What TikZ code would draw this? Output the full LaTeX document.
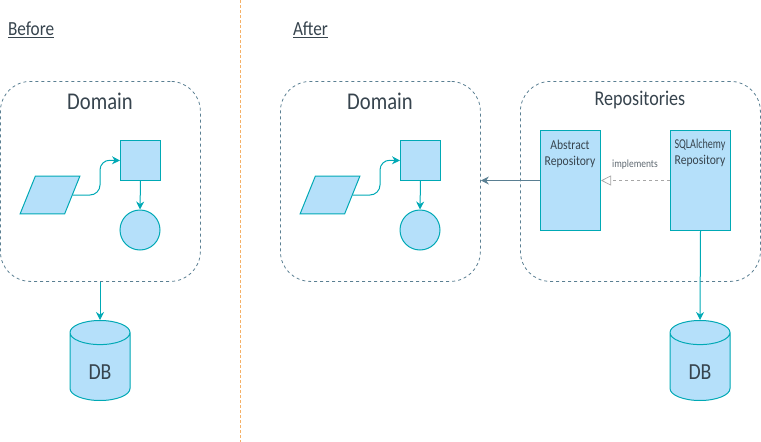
\documentclass[tikz,border=0pt]{standalone}
\usepackage{fontspec}
\setmainfont[FakeStretch=0.86]{Carlito}
\usetikzlibrary{arrows.meta,shapes.geometric}
\definecolor{tealline}{HTML}{00A9B5}
\definecolor{boxfill}{HTML}{B5E0FA}
\definecolor{slateline}{HTML}{5A7F92}
\definecolor{inktext}{HTML}{37444E}
\definecolor{splitline}{HTML}{F5B066}
\tikzset{
	shapebox/.style={draw=tealline, fill=boxfill, line width=1pt, inner sep=0pt},
	rect/.style={shapebox, rectangle, minimum width=#1, anchor=north west},
	classbox/.style={rect=60pt, minimum height=100pt},
	region/.style={draw=slateline, dashed, dash pattern=on 3pt off 3pt, line width=0.8pt, rounded corners=30pt, rectangle, minimum height=200pt, anchor=north west, inner sep=0pt},
	dbcyl/.style={shapebox, cylinder, shape border rotate=90, aspect=1.05, minimum width=60pt, minimum height=80pt, anchor=north, cylinder uses custom fill, cylinder body fill=boxfill, cylinder end fill=boxfill, font=\fontsize{23}{23}\selectfont},
	dbtext/.style={font=\fontsize{23}{23}\selectfont\color{inktext}},
	flow/.style={-{Stealth[length=8pt,width=8pt]}, draw=tealline, line width=1pt},
	title/.style={font=\fontsize{24}{24}\selectfont\color{inktext}},
	heading/.style={font=\fontsize{20}{20}\selectfont\color{inktext}, anchor=west},
	classtext/.style={font=\fontsize{13.5}{16}\selectfont\color{inktext}, align=center},
}
\begin{document}
\begin{tikzpicture}[x=1pt,y=-1pt]
	\useasboundingbox (0,0) rectangle (761,442);
	\coordinate (splittop) at (240.5,0);
	\coordinate (splitbot) at (240.5,442);
	\draw[splitline, dashed, dash pattern=on 3pt off 2pt, line width=0.8pt] (splittop) -- (splitbot);
	\node[heading] (before) at (4.5,30) {\underline{Before}};
	\node[heading] (after) at (289.5,30) {\underline{After}};
	% the same domain twice
	\foreach \dx/\nm in {0/a,280/b} {
		\node[region, minimum width=200pt] (dom\nm) at (\dx,81) {};
		\node[title] (domtitle\nm) at (\dx+100,101) {Domain};
		\node[rect=40pt, minimum height=40pt] (sq\nm) at (\dx+120,140) {};
		\node[shapebox, circle, minimum size=40pt] (circ\nm) at (\dx+140,230) {};
		\node[shapebox, trapezium, trapezium left angle=68, trapezium right angle=112, minimum width=60pt, minimum height=30pt] (para\nm) at (\dx+50,195) {\phantom{x}};
		\draw[flow, rounded corners=10pt] (para\nm.east) -- (\dx+100,195) -- (\dx+100,160) -- (sq\nm.west);
		\draw[flow] (sq\nm.south) -- (circ\nm.north);
	}
	\node[region, minimum width=240pt] (repos) at (520,81) {};
	\node[font=\fontsize{21}{21}\selectfont\color{inktext}] (repostitle) at (640,100) {Repositories};
	\node[classbox] (abstract) at (540,130) {};
	\node[classbox] (sqlrepo) at (670,130) {};
	\node[classtext] (abstracttext) at (570,154) {Abstract\\Repository};
	\node[classtext] (sqltext) at (700,153) {\scalebox{0.87}[1]{SQLAlchemy}\\Repository};
	\node[dbcyl] (db1) at (100,320) {\phantom{DB}};
	\node[dbcyl] (db2) at (700,320) {\phantom{DB}};
	\node[dbtext] (db1text) at (100,372) {DB};
	\node[dbtext] (db2text) at (700,372) {DB};
	\draw[flow] (doma.south -| db1.north) -- (db1.north);
	\draw[flow] (sqlrepo.south) -- (db2.north);
	\draw[-{Stealth[length=8pt,width=8pt]}, draw=slateline, line width=1pt] (abstract.west) -- (abstract.west -| domb.east);
	\draw[-{Triangle[open,length=10pt,width=10pt]}, draw=gray!70, dashed, line width=0.7pt] (sqlrepo.west) -- (abstract.east);
	\node[font=\fontsize{11}{11}\selectfont\color{inktext!80}] (impl) at (635,165) {implements};
\end{tikzpicture}
\end{document}
